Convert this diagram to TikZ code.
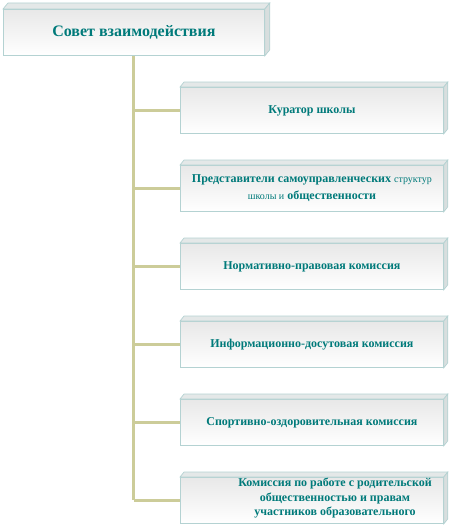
\documentclass[tikz,border=0pt]{standalone}
\usepackage{fontspec}
\setmainfont{Liberation Serif}
\definecolor{txt}{HTML}{007A7A}
\definecolor{edge}{HTML}{B4D2D2}
\definecolor{conn}{HTML}{CCCC99}
\definecolor{topf}{HTML}{E4E8E8}
\definecolor{sidef}{HTML}{D8DEDE}
\newcommand\threed[3]{%
  \filldraw[fill=topf, draw=edge, line width=0.7pt] (#1.north west) -- ++(#2,-#3) -- ([shift={(#2,-#3)}]#1.north east) -- (#1.north east) -- cycle;
  \filldraw[fill=sidef, draw=edge, line width=0.7pt] (#1.north east) -- ++(#2,-#3) -- ([shift={(#2,-#3)}]#1.south east) -- (#1.south east) -- cycle;
}
\tikzset{
  box/.style={draw=edge, line width=0.8pt, top color=gray!18, bottom color=white, inner sep=0pt,
    text=txt, align=center, anchor=north west},
  mainbox/.style={box, minimum width=261pt, minimum height=46pt, font=\bfseries\fontsize{16}{18}\selectfont},
  subbox/.style={box, minimum width=263pt, minimum height=46pt, font=\bfseries\fontsize{12}{17}\selectfont},
  conline/.style={draw=conn, line width=3pt}
}
\begin{document}
\begin{tikzpicture}[x=1pt,y=-1pt]
\useasboundingbox (0,0) rectangle (450,527);
\node[mainbox] (main) at (3,9) {Совет взаимодействия};
\threed{main}{5}{6}
\node[subbox] (b1) at (180,87) {Куратор школы};
\node[subbox] (b2) at (180,165) {Представители самоуправленческих {\mdseries\fontsize{10}{10}\selectfont структур}\\{\mdseries\fontsize{10}{10}\selectfont школы и} общественности};
\node[subbox] (b3) at (180,243) {Нормативно-правовая комиссия};
\node[subbox] (b4) at (180,321) {Информационно-досутовая комиссия};
\node[subbox] (b5) at (180,399) {Спортивно-оздоровительная комиссия};
\node[subbox] (b6) at (180,477) {};
\node[text=txt, align=center, font=\bfseries\fontsize{12}{14.5}\selectfont] (t6) at (335,498) {Комиссия по работе с родительской\\общественностью и правам\\участников образовательного};
\foreach \b in {b1,b2,b3,b4,b5,b6}{\threed{\b}{4}{5}}
\coordinate (end) at (main.south |- b6.west);
\draw[conline] (main.south) -- (end);
\foreach \b in {b1,b2,b3,b4,b5,b6}{\draw[conline] (main.south |- \b.west) -- (\b.west);}
\end{tikzpicture}
\end{document}
